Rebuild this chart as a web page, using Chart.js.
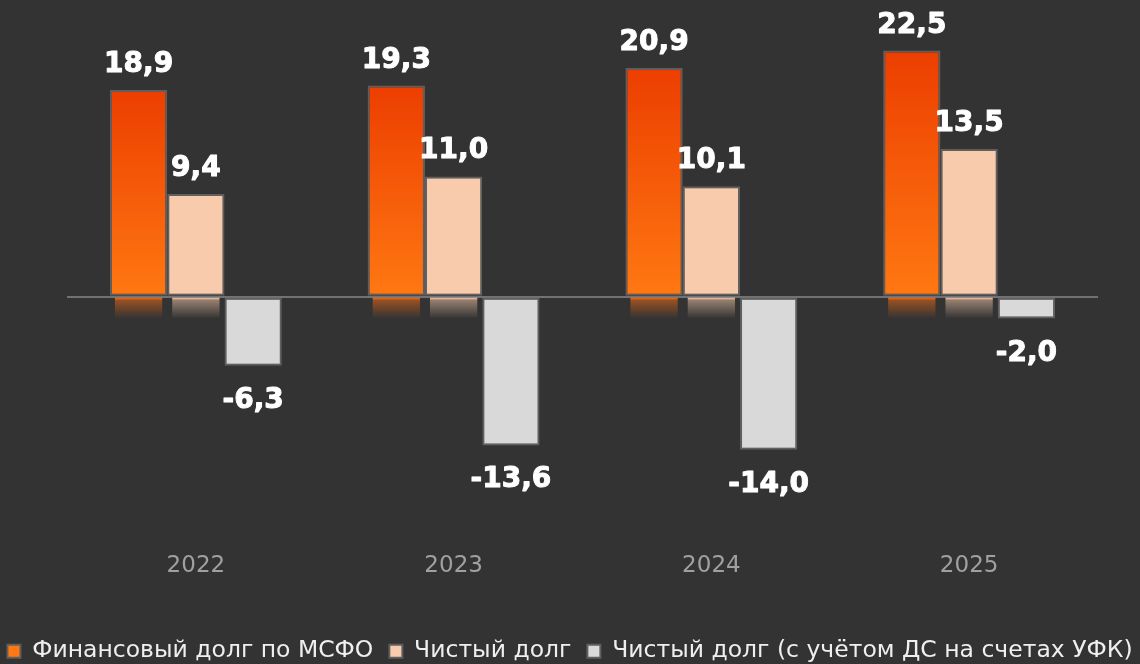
<!DOCTYPE html>
<html>
<head>
<meta charset="utf-8">
<script src="https://cdn.jsdelivr.net/npm/chart.js@4"></script>
<style>
  html, body { margin: 0; padding: 0; background: #333333; }
  #wrap { width: 1140px; height: 664px; }
</style>
</head>
<body>
<div id="wrap"><canvas id="debt-chart" width="1140" height="664"></canvas></div>
<script>
// Chart data
const categories = ['2022', '2023', '2024', '2025'];
const financialDebt = [18.9, 19.3, 20.9, 22.5];
const netDebt = [9.4, 11.0, 10.1, 13.5];
const netDebtUfk = [-6.3, -13.6, -14.0, -2.0];
const seriesNames = [
  'Финансовый долг по МСФО',
  'Чистый долг',
  'Чистый долг (с учётом ДС на счетах УФК)'
];

// "18.9" -> "18,9"
function fmt(v) {
  return v.toFixed(1).replace('.', ',');
}

// Orange bar fill: red-orange at the top, orange at the bottom
function orangeFill(ctx) {
  const chart = ctx.chart;
  const y = chart.scales && chart.scales.y;
  if (!chart.chartArea || !y || typeof ctx.raw !== 'number') return '#f45800';
  const g = chart.ctx.createLinearGradient(0, y.getPixelForValue(ctx.raw), 0, y.getPixelForValue(0));
  g.addColorStop(0, '#ec3e00');
  g.addColorStop(1, '#ff7812');
  return g;
}

// Value labels plus the little reflections under positive bars
const barExtras = {
  id: 'barExtras',
  afterDatasetsDraw(chart) {
    const c = chart.ctx;
    const zero = chart.scales.y.getPixelForValue(0);
    const reflect = ['rgba(250,110,20,', 'rgba(248,203,173,'];
    c.save();
    chart.data.datasets.forEach((ds, di) => {
      const meta = chart.getDatasetMeta(di);
      meta.data.forEach((bar, i) => {
        const v = ds.data[i];
        // reflection
        if (di < 2 && v > 0) {
          const x0 = bar.x - bar.width / 2 + 5;
          const w = bar.width - 10;
          const g = c.createLinearGradient(0, zero + 1, 0, zero + 22);
          g.addColorStop(0, reflect[di] + '1)');
          g.addColorStop(0.12, reflect[di] + '0.5)');
          g.addColorStop(1, reflect[di] + '0)');
          c.fillStyle = g;
          c.fillRect(x0, zero + 1, w, 21);
        }
        // value label
        c.fillStyle = '#ffffff';
        c.strokeStyle = '#ffffff';
        c.lineWidth = 1;
        c.lineJoin = 'round';
        c.font = 'bold 28px "DejaVu Sans"';
        c.textAlign = 'center';
        c.textBaseline = 'alphabetic';
        const ty = v >= 0 ? bar.y - 18 : bar.y + 42;
        c.fillText(fmt(v), bar.x, ty);
        c.strokeText(fmt(v), bar.x, ty);
      });
    });
    c.restore();
  }
};

const border = '#5f5f5f';

new Chart(document.getElementById('debt-chart'), {
  type: 'bar',
  data: {
    labels: categories,
    datasets: [
      {
        label: seriesNames[0],
        data: financialDebt,
        backgroundColor: orangeFill,
        borderColor: border,
        borderWidth: 2,
        borderSkipped: false
      },
      {
        label: seriesNames[1],
        data: netDebt,
        backgroundColor: '#f8cbad',
        borderColor: border,
        borderWidth: 2,
        borderSkipped: false
      },
      {
        label: seriesNames[2],
        data: netDebtUfk,
        backgroundColor: '#d9d9d9',
        borderColor: border,
        borderWidth: 2,
        borderSkipped: false
      }
    ]
  },
  options: {
    responsive: false,
    animation: false,
    events: [],
    // negative side padding gives the wide legend room for one row
    layout: { padding: { top: 10, bottom: -9, left: -15, right: -15 } },
    datasets: {
      bar: { categoryPercentage: 0.667, barPercentage: 1.0 }
    },
    scales: {
      x: {
        grid: { display: false },
        border: { display: false },
        ticks: {
          color: '#a0a0a0',
          padding: 8,
          font: { family: 'DejaVu Sans', size: 23 }
        },
        afterFit(scale) { scale.height = 87; }
      },
      y: {
        min: -21.92,
        max: 26.21,
        ticks: { display: false, stepSize: 2 },
        border: { display: false },
        grid: {
          drawTicks: false,
          lineWidth: 2,
          color: (ctx) => (ctx.tick && ctx.tick.value === 0 ? '#727272' : 'rgba(0,0,0,0)')
        },
        afterFit(scale) { scale.width = 82; }
      },
      yRight: {
        type: 'linear',
        position: 'right',
        ticks: { display: false },
        grid: { display: false },
        border: { display: false },
        afterFit(scale) { scale.width = 57; }
      }
    },
    plugins: {
      tooltip: { enabled: false },
      legend: {
        position: 'bottom',
        labels: {
          color: '#efefef',
          boxWidth: 13,
          boxHeight: 13,
          padding: 16,
          font: { family: 'DejaVu Sans', size: 23.5 }
        }
      }
    }
  },
  plugins: [barExtras]
});
</script>
</body>
</html>
